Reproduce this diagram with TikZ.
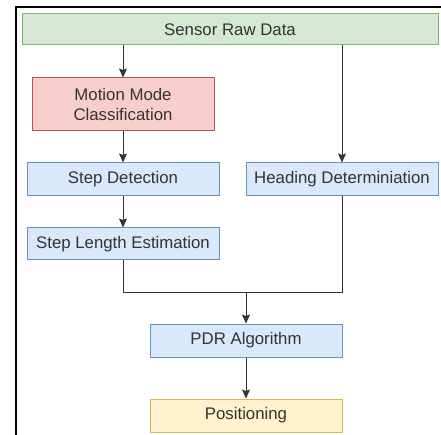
\documentclass[tikz,border=0pt]{standalone}
\usepackage{fontspec}
\setmainfont{Liberation Sans}
\usetikzlibrary{arrows.meta}
\definecolor{gfill}{HTML}{D5E8D4}\definecolor{gdraw}{HTML}{82B366}
\definecolor{rfill}{HTML}{F8CECC}\definecolor{rdraw}{HTML}{B85450}
\definecolor{bfill}{HTML}{DAE8FC}\definecolor{bdraw}{HTML}{6C8EBF}
\definecolor{yfill}{HTML}{FFF2CC}\definecolor{ydraw}{HTML}{D6B656}
\definecolor{txt}{HTML}{333333}
\begin{document}
\begin{tikzpicture}[x=1pt,y=1pt,
  box/.style={rectangle,inner sep=0pt,line width=1pt,text=txt,
    font=\fontsize{16.8}{20}\selectfont,align=center},
  conn/.style={line width=1pt,draw=black!80},
  arr/.style={conn,-{Stealth[length=9pt,width=8pt,inset=1.5pt]}}]
\useasboundingbox (0,0) rectangle (441,-435);
\fill[white] (0,0) rectangle (441,-435);
% outer frame
\coordinate (fa) at (16,-7);
\coordinate (fb) at (441,-7);
\coordinate (fc) at (16,-435);
\draw[line width=2pt] (fb) -- (fa) -- (fc);
% nodes
\node[box,fill=gfill,draw=gdraw,minimum width=416pt,minimum height=31pt] (srd) at (230,-29.5) {Sensor Raw Data};
\node[box,fill=rfill,draw=rdraw,minimum width=182pt,minimum height=53pt] (mmc) at (123,-104.5) {Motion Mode\\Classification};
\node[box,fill=bfill,draw=bdraw,minimum width=192pt,minimum height=33pt] (sd) at (123,-179.5) {Step Detection};
\node[box,fill=bfill,draw=bdraw,minimum width=192pt,minimum height=33pt] (hd) at (342,-179.5) {Heading Determiniation};
\node[box,fill=bfill,draw=bdraw,minimum width=192pt,minimum height=32pt] (sle) at (123,-244) {Step Length Estimation};
\node[box,fill=bfill,draw=bdraw,minimum width=192pt,minimum height=33pt] (pdr) at (246,-340.5) {PDR Algorithm};
\node[box,fill=yfill,draw=ydraw,minimum width=192pt,minimum height=33pt] (pos) at (246,-415.5) {Positioning};
\coordinate (merge) at (246,-292);
% connectors
\draw[arr] (srd.south -| mmc.north) -- (mmc.north);
\draw[arr] (srd.south -| hd.north) -- (hd.north);
\draw[arr] (mmc.south) -- (sd.north);
\draw[arr] (sd.south) -- (sle.north);
\draw[conn] (sle.south) |- (merge);
\draw[conn] (hd.south) |- (merge);
\draw[arr] (merge) -- (pdr.north);
\draw[arr] (pdr.south) -- (pos.north);
\end{tikzpicture}
\end{document}
